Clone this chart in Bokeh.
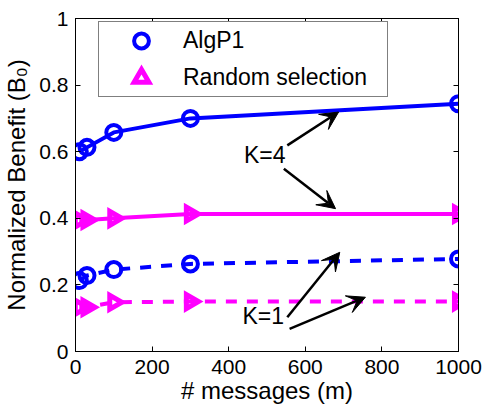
import math
from bokeh.plotting import figure
from bokeh.models import (Range1d, LinearAxis, FixedTicker, Legend, LegendItem,
                          Arrow, VeeHead, Label, CustomLabelingPolicy)
from bokeh.embed import file_html
from bokeh.resources import INLINE

# ---- data ----
messages = [10, 30, 100, 300, 1000]
algp1_k4 = [0.600, 0.613, 0.658, 0.700, 0.744]
random_k4 = [0.395, 0.395, 0.400, 0.413, 0.413]
algp1_k1 = [0.213, 0.228, 0.246, 0.263, 0.278]
random_k1 = [0.133, 0.133, 0.148, 0.150, 0.150]

x_ticks = [0, 200, 400, 600, 800, 1000]
y_ticks = [0, 0.2, 0.4, 0.6, 0.8, 1]
y_tick_labels = ["0", "0.2", "0.4", "0.6", "0.8", "1"]
series_names = ["AlgP1", "Random selection"]
x_title = "# messages (m)"
y_title = "Normalized Benefit (B\u2080)"

# annotation anchors (data units)
k_texts = ["K=4", "K=1"]
k_text_x = [494, 490]
k_text_y = [0.590, 0.108]
arrow_x0 = [553, 544, 553, 559]
arrow_y0 = [0.619, 0.549, 0.103, 0.068]
arrow_x1 = [687, 679, 690, 757]
arrow_y1 = [0.719, 0.429, 0.298, 0.163]

BLUE = "#0000FF"
MAGENTA = "#FF00FF"
FONT = "Liberation Sans"

p = figure(width=482, height=411, x_range=Range1d(0, 1000), y_range=Range1d(0, 1),
           output_backend="svg", toolbar_location=None,
           min_border_left=75, min_border_right=24, min_border_top=18, min_border_bottom=60,
           x_axis_label=x_title, y_axis_label=y_title)
p.grid.visible = False
p.outline_line_color = "black"
p.outline_line_width = 1
p.background_fill_color = "white"
p.border_fill_color = "white"

p.xaxis.ticker = FixedTicker(ticks=x_ticks)
p.yaxis.ticker = FixedTicker(ticks=y_ticks)
p.yaxis.major_label_overrides = {t: l for t, l in zip(y_ticks, y_tick_labels)}

for ax in p.xaxis + p.yaxis:
    ax.major_tick_in = 5
    ax.major_tick_out = 0
    ax.minor_tick_line_color = None
    ax.axis_line_color = "black"
    ax.major_tick_line_color = "black"
    ax.major_label_text_font = FONT
    ax.major_label_text_font_size = "21px"
    ax.major_label_text_color = "black"
    ax.axis_label_text_font = FONT
    ax.axis_label_text_font_size = "24px"
    ax.axis_label_text_font_style = "normal"
    ax.axis_label_text_color = "black"
p.xaxis.major_label_standoff = 8
p.xaxis.axis_label_standoff = 0
p.yaxis.major_label_standoff = 7
p.yaxis.axis_label_standoff = 6

no_labels = CustomLabelingPolicy(code="""
    for (const i of [...indices]) { indices.unset(i) }
    return indices
""")
top_axis = LinearAxis(ticker=FixedTicker(ticks=x_ticks), major_label_text_font_size="0px",
                      major_label_policy=no_labels,
                      major_label_standoff=0, major_tick_in=5, major_tick_out=0,
                      minor_tick_line_color=None, axis_line_color="black")
right_axis = LinearAxis(ticker=FixedTicker(ticks=y_ticks), major_label_text_font_size="0px",
                        major_label_policy=no_labels,
                        major_label_standoff=0, major_tick_in=5, major_tick_out=0,
                        minor_tick_line_color=None, axis_line_color="black")
p.add_layout(top_axis, "above")
p.add_layout(right_axis, "right")

# K=4 (solid)
p.line(messages, algp1_k4, line_color=BLUE, line_width=4)
p.line(messages, random_k4, line_color=MAGENTA, line_width=4)
# K=1 (dashed)
p.line(messages, algp1_k1, line_color=BLUE, line_width=4, line_dash="11 10")
p.line(messages, random_k1, line_color=MAGENTA, line_width=4, line_dash="11 10")

circ_style = dict(marker="circle", size=15, fill_color=None, line_color=BLUE, line_width=4)
tri_style = dict(marker="triangle", size=14, angle=-math.pi / 2, fill_color=None,
                 line_color=MAGENTA, line_width=5, line_join="miter")

c4 = p.scatter(messages, algp1_k4, **circ_style)
t4 = p.scatter(messages, random_k4, **tri_style)
p.scatter(messages, algp1_k1, **circ_style)
p.scatter(messages, random_k1, **tri_style)

legend = Legend(items=[LegendItem(label=series_names[0], renderers=[c4]),
                       LegendItem(label=series_names[1], renderers=[t4])],
                location=(23, 254), padding=0, spacing=-4,
                glyph_width=84, glyph_height=37, label_standoff=0,
                label_width=204, label_height=37,
                label_text_font=FONT, label_text_font_size="23px",
                label_text_color="black",
                border_line_color="black", border_line_width=1,
                background_fill_color="white", background_fill_alpha=1)
p.add_layout(legend, "center")

for t, x, y in zip(k_texts, k_text_x, k_text_y):
    p.add_layout(Label(x=x, y=y, text=t, text_align="center", text_baseline="middle",
                       text_font=FONT, text_font_size="23px", text_color="black"))

for xs, ys, xe, ye in zip(arrow_x0, arrow_y0, arrow_x1, arrow_y1):
    p.add_layout(Arrow(x_start=xs, y_start=ys, x_end=xe, y_end=ye,
                       line_color="black", line_width=2.5,
                       end=VeeHead(size=18, fill_color="black", line_color="black",
                                   line_width=1)))

open("out.html", "w").write(file_html(p, INLINE))
